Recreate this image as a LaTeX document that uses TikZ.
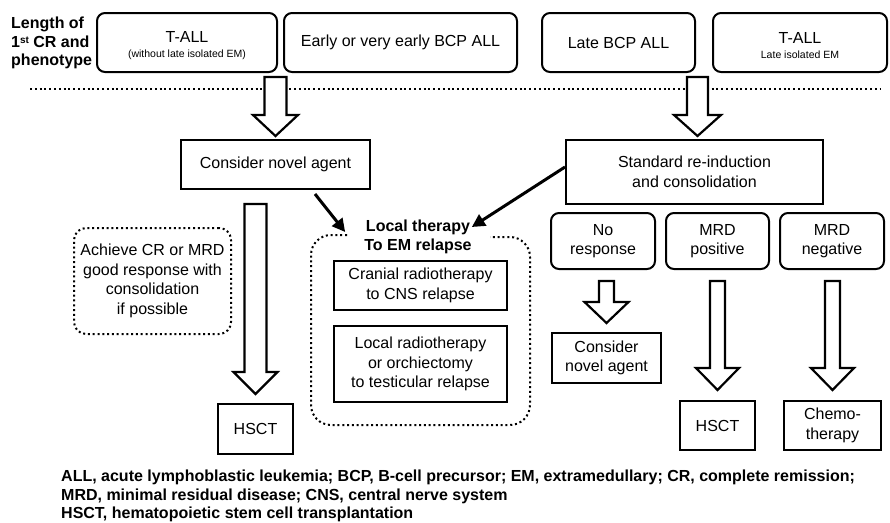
\documentclass[tikz,border=0pt]{standalone}
\usepackage{fontspec}
\setmainfont{Liberation Sans}
\usetikzlibrary{calc,arrows.meta}
\newcommand{\fsA}{\fontsize{16}{19.5}\selectfont}
\newcommand{\fsS}{\fontsize{10.5}{12}\selectfont}
\newcommand{\fsF}{\fontsize{16}{18.5}\selectfont\bfseries}
\newcommand{\harrow}[5]{\draw[hollowarrow] let \p1=(#1), \p2=(#2) in
  (\x2-#3,\y1) -- (\x2+#3,\y1) -- (\x2+#3,\y2+#5) -- (\x2+#4,\y2+#5) -- (\x2,\y2)
  -- (\x2-#4,\y2+#5) -- (\x2-#3,\y2+#5) -- cycle;}
\tikzset{
  rbox/.style={draw, line width=2pt, rounded corners=8pt, inner sep=0pt, align=center, font=\fsA},
  sbox/.style={draw, line width=2pt, inner sep=0pt, align=center, font=\fsA},
  dbox/.style={draw, line width=2pt, dash pattern=on 2pt off 2.8pt, rounded corners=12pt, inner sep=0pt, align=center, font=\fsA},
  dline/.style={line width=2pt, dash pattern=on 2pt off 2.8pt},
  hollowarrow/.style={draw, fill=white, line width=2.2pt, line join=miter},
  darrow/.style={line width=3pt, -{Triangle[length=13pt,width=13pt]}},
  titletext/.style={inner sep=0pt, align=center, font=\fsA\bfseries},
}
\begin{document}
\begin{tikzpicture}[x=1pt,y=-1pt]
\useasboundingbox (0,0) rectangle (890,522);
% left label
\node[anchor=west, inner sep=0pt, align=left, font=\fontsize{16}{18.5}\selectfont\bfseries] (lbl) at (11,43) {Length of\\1\raisebox{4pt}{\fontsize{10}{10}\selectfont st} CR and\\phenotype};
% top boxes
\node[rbox, minimum width=180, minimum height=59] (t1) at (187,42.5) {\rule{0pt}{17.5pt}T-ALL\\[-4pt]{\fsS (without late isolated EM)}};
\node[rbox, minimum width=233, minimum height=59] (early) at (400.5,42.5) {Early or very early BCP ALL};
\node[rbox, minimum width=153, minimum height=59] (late) at (618.5,42.5) {Late BCP ALL};
\node[rbox, minimum width=174, minimum height=59] (t2) at (800,42.5) {\rule{0pt}{17.5pt}T-ALL\\[-4pt]{\fsS Late isolated EM}};
% dotted separator
\draw[dline] (30,89) -- (880,89);
% second row
\node[sbox, minimum width=189, minimum height=49] (cna) at (275.5,164.5) {Consider novel agent};
\node[sbox, minimum width=257, minimum height=64] (std) at (694.5,172) {Standard re-induction\\and consolidation};
% hollow arrows from top
\harrow{[yshift=-4pt]t1.south}{[yshift=3pt]cna.north}{11pt}{22.5pt}{21pt}
\harrow{[yshift=-4pt]late.south}{[xshift=3pt,yshift=3pt]std.north}{10.5pt}{23.5pt}{21pt}
% response boxes
\node[rbox, minimum width=104, minimum height=56] (nr) at (603,241) {No\\response};
\node[rbox, minimum width=103, minimum height=56] (mp) at (717.5,241) {MRD\\positive};
\node[rbox, minimum width=104, minimum height=56] (mn) at (832,241) {MRD\\negative};
% left side
\node[dbox, minimum width=157, minimum height=106] (ach) at (152.5,281) {Achieve CR or MRD\\good response with\\consolidation\\if possible};
\node[sbox, minimum width=75, minimum height=50] (hs1) at (255.5,429) {HSCT};
% local therapy container
\node[titletext] (lt) at (418,237) {Local therapy\\To EM relapse};
\draw[dline, rounded corners=20pt] (347,235) -- (311,235) -- (311,425) -- (530,425) -- (530,237) -- (490,237);
\node[sbox, minimum width=173, minimum height=49] (cran) at (420.5,285.5) {Cranial radiotherapy\\to CNS relapse};
\node[sbox, minimum width=173, minimum height=76] (lrad) at (420.5,364) {Local radiotherapy\\or orchiectomy\\to testicular relapse};
% bottom right
\node[sbox, minimum width=109, minimum height=50] (cna2) at (606.5,358) {Consider\\novel agent};
\node[sbox, minimum width=75, minimum height=49] (hs2) at (717.5,425.5) {HSCT};
\node[sbox, minimum width=97, minimum height=49] (chemo) at (832.5,425.5) {Chemo-\\therapy};
% hollow arrows lower
\harrow{[yshift=-14pt]cna.south}{[yshift=9pt]hs1.north}{11pt}{22pt}{22pt}
\harrow{[yshift=-11pt]nr.south}{[yshift=9pt]cna2.north}{7.5pt}{22pt}{21pt}
\harrow{[yshift=-11pt]mp.south}{[yshift=10pt]hs2.north}{7.5pt}{21.5pt}{22pt}
\harrow{[yshift=-11pt]mn.south}{[yshift=10pt]chemo.north}{7.5pt}{21.5pt}{22pt}
% diagonal arrows
\draw[darrow] ([xshift=39.5pt,yshift=-4pt]cna.south) -- ([xshift=-19pt,yshift=5pt]lt.west);
\draw[darrow] ([yshift=5pt]std.west) -- ([yshift=10pt]lt.east);
% footnote
\node[anchor=north west, inner sep=0pt, align=left, font=\fsF] (fn) at (61,470) {ALL, acute lymphoblastic leukemia; BCP, B-cell precursor; EM, extramedullary; CR, complete remission;\\MRD, minimal residual disease; CNS, central nerve system\\HSCT, hematopoietic stem cell transplantation};
\end{tikzpicture}
\end{document}
